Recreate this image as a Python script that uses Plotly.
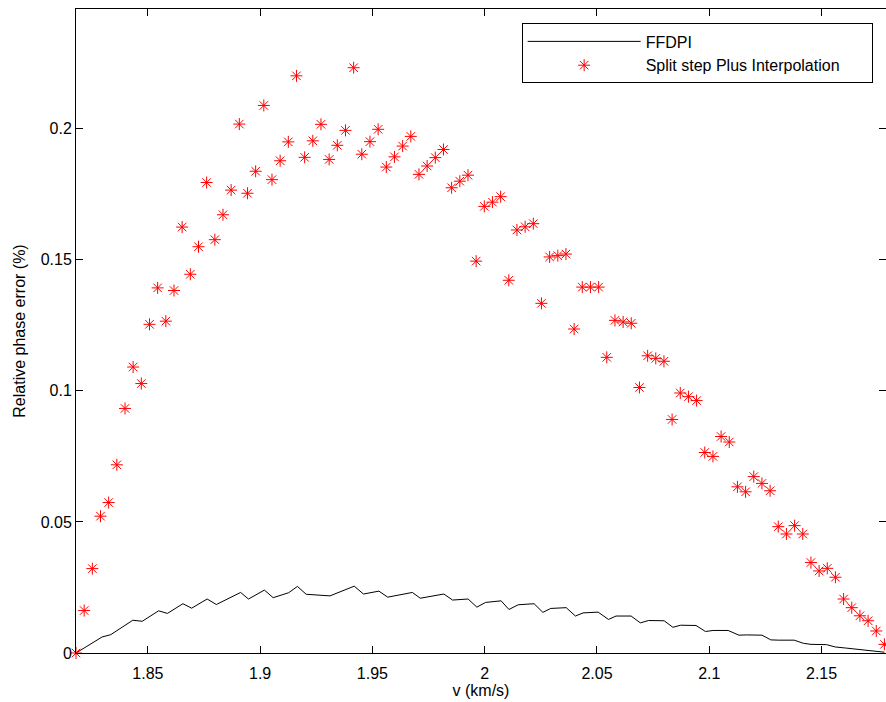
import numpy as np
import plotly.graph_objects as go

# Split step Plus Interpolation: 100 samples, 1.818 .. 2.178 km/s
v_split = np.round(np.linspace(1.818, 2.178, 100), 5)
err_split = [
    0.0000, 0.0162, 0.0322, 0.0522, 0.0574, 0.0718, 0.0933, 0.1091, 0.1028, 0.1254,
    0.1393, 0.1266, 0.1383, 0.1625, 0.1445, 0.1550, 0.1795, 0.1577, 0.1672, 0.1766,
    0.2018, 0.1754, 0.1838, 0.2089, 0.1806, 0.1878, 0.1950, 0.2202, 0.1891, 0.1954,
    0.2017, 0.1883, 0.1937, 0.1994, 0.2233, 0.1903, 0.1951, 0.1998, 0.1854, 0.1893,
    0.1934, 0.1971, 0.1826, 0.1858, 0.1890, 0.1921, 0.1775, 0.1800, 0.1823, 0.1495,
    0.1704, 0.1720, 0.1741, 0.1422, 0.1614, 0.1626, 0.1638, 0.1334, 0.1511, 0.1516,
    0.1522, 0.1236, 0.1396, 0.1396, 0.1396, 0.1128, 0.1269, 0.1263, 0.1258, 0.1013,
    0.1134, 0.1124, 0.1113, 0.0891, 0.0992, 0.0978, 0.0963, 0.0765, 0.0750, 0.0826,
    0.0805, 0.0634, 0.0615, 0.0673, 0.0647, 0.0619, 0.0482, 0.0454, 0.0486, 0.0454,
    0.0345, 0.0313, 0.0323, 0.0289, 0.0206, 0.0173, 0.0142, 0.0123, 0.0084, 0.0033,
]

# FFDPI curve vertices
v_ffdpi = [
    1.8180, 1.8296, 1.8335, 1.8433, 1.8475, 1.8548, 1.8587, 1.8656, 1.8695, 1.8764,
    1.8805, 1.8913, 1.8948, 1.9019, 1.9058, 1.9127, 1.9166, 1.9205, 1.9311, 1.9419,
    1.9460, 1.9529, 1.9568, 1.9678, 1.9713, 1.9818, 1.9857, 1.9926, 1.9965, 2.0004,
    2.0073, 2.0108, 2.0149, 2.0220, 2.0259, 2.0294, 2.0363, 2.0404, 2.0438, 2.0505,
    2.0551, 2.0585, 2.0652, 2.0693, 2.0730, 2.0799, 2.0838, 2.0872, 2.0941, 2.0983,
    2.1017, 2.1084, 2.1132, 2.1166, 2.1235, 2.1274, 2.1309, 2.1378, 2.1419, 2.1453,
    2.1522, 2.1561, 2.1607, 2.1780,
]
err_ffdpi = [
    0.0000, 0.0061, 0.0070, 0.0125, 0.0121, 0.0161, 0.0151, 0.0188, 0.0171, 0.0206,
    0.0185, 0.0231, 0.0206, 0.0240, 0.0211, 0.0230, 0.0254, 0.0224, 0.0218, 0.0255,
    0.0225, 0.0236, 0.0213, 0.0231, 0.0209, 0.0225, 0.0202, 0.0206, 0.0175, 0.0193,
    0.0199, 0.0166, 0.0184, 0.0188, 0.0155, 0.0170, 0.0173, 0.0141, 0.0153, 0.0156,
    0.0128, 0.0141, 0.0141, 0.0115, 0.0124, 0.0123, 0.0098, 0.0106, 0.0105, 0.0082,
    0.0086, 0.0086, 0.0068, 0.0069, 0.0068, 0.0050, 0.0049, 0.0049, 0.0037, 0.0033,
    0.0032, 0.0023, 0.0019, 0.0003,
]

x_ticks = [1.85, 1.9, 1.95, 2.0, 2.05, 2.1, 2.15]
x_tick_labels = ["1.85", "1.9", "1.95", "2", "2.05", "2.1", "2.15"]
y_ticks = [0, 0.05, 0.1, 0.15, 0.2]
y_tick_labels = ["0", "0.05", "0.1", "0.15", "0.2"]

FONT = "Liberation Sans, Arial, Helvetica, sans-serif"
PAD = "\u00a0" * 6  # right padding inside the legend box

fig = go.Figure()
fig.add_trace(go.Scatter(
    x=v_ffdpi, y=err_ffdpi, mode="lines", name="FFDPI",
    line=dict(color="black", width=1), cliponaxis=False,
))
fig.add_trace(go.Scatter(
    x=v_split, y=err_split, mode="markers", name="Split step Plus Interpolation" + PAD,
    marker=dict(symbol="asterisk-open", size=10, color="red",
                line=dict(color="red", width=1)),
    cliponaxis=False,
))
# invisible trace to carry the right-hand ticks
fig.add_trace(go.Scatter(x=[v_split[0]], y=[0], yaxis="y2", mode="markers",
                         marker=dict(opacity=0), showlegend=False, hoverinfo="skip"))

fig.update_layout(
    width=886, height=702,
    margin=dict(l=76, r=0, t=9, b=49),
    paper_bgcolor="white", plot_bgcolor="white",
    font=dict(family=FONT, size=16, color="black"),
    showlegend=True,
    legend=dict(
        x=0.5502, y=0.9775, xanchor="left", yanchor="top",
        bgcolor="white", bordercolor="black", borderwidth=1,
        font=dict(family=FONT, size=16, color="black"),
        itemwidth=113, tracegroupgap=0,
    ),
    xaxis=dict(
        range=[1.818, 2.1787], tickvals=x_ticks, ticktext=x_tick_labels,
        ticks="inside", ticklen=7, tickwidth=1, tickcolor="black",
        showline=True, linecolor="black", linewidth=1, mirror="ticks",
        showgrid=False, zeroline=False, ticklabelstandoff=6,
        title=dict(text="v (km/s)", standoff=1, font=dict(size=16)),
        tickfont=dict(size=16),
    ),
    yaxis=dict(
        range=[0, 0.2457], tickvals=y_ticks, ticktext=y_tick_labels,
        ticks="inside", ticklen=7, tickwidth=1, tickcolor="black",
        showline=True, linecolor="black", linewidth=1,
        showgrid=False, zeroline=False,
        title=dict(text="Relative phase error (%)", standoff=11, font=dict(size=16)),
        tickfont=dict(size=16),
    ),
    yaxis2=dict(
        overlaying="y", side="right", range=[0, 0.2457], tickvals=y_ticks,
        ticks="inside", ticklen=7, tickwidth=1, tickcolor="black",
        showticklabels=False, showline=False, showgrid=False, zeroline=False,
    ),
)

fig.write_html("out.html")
